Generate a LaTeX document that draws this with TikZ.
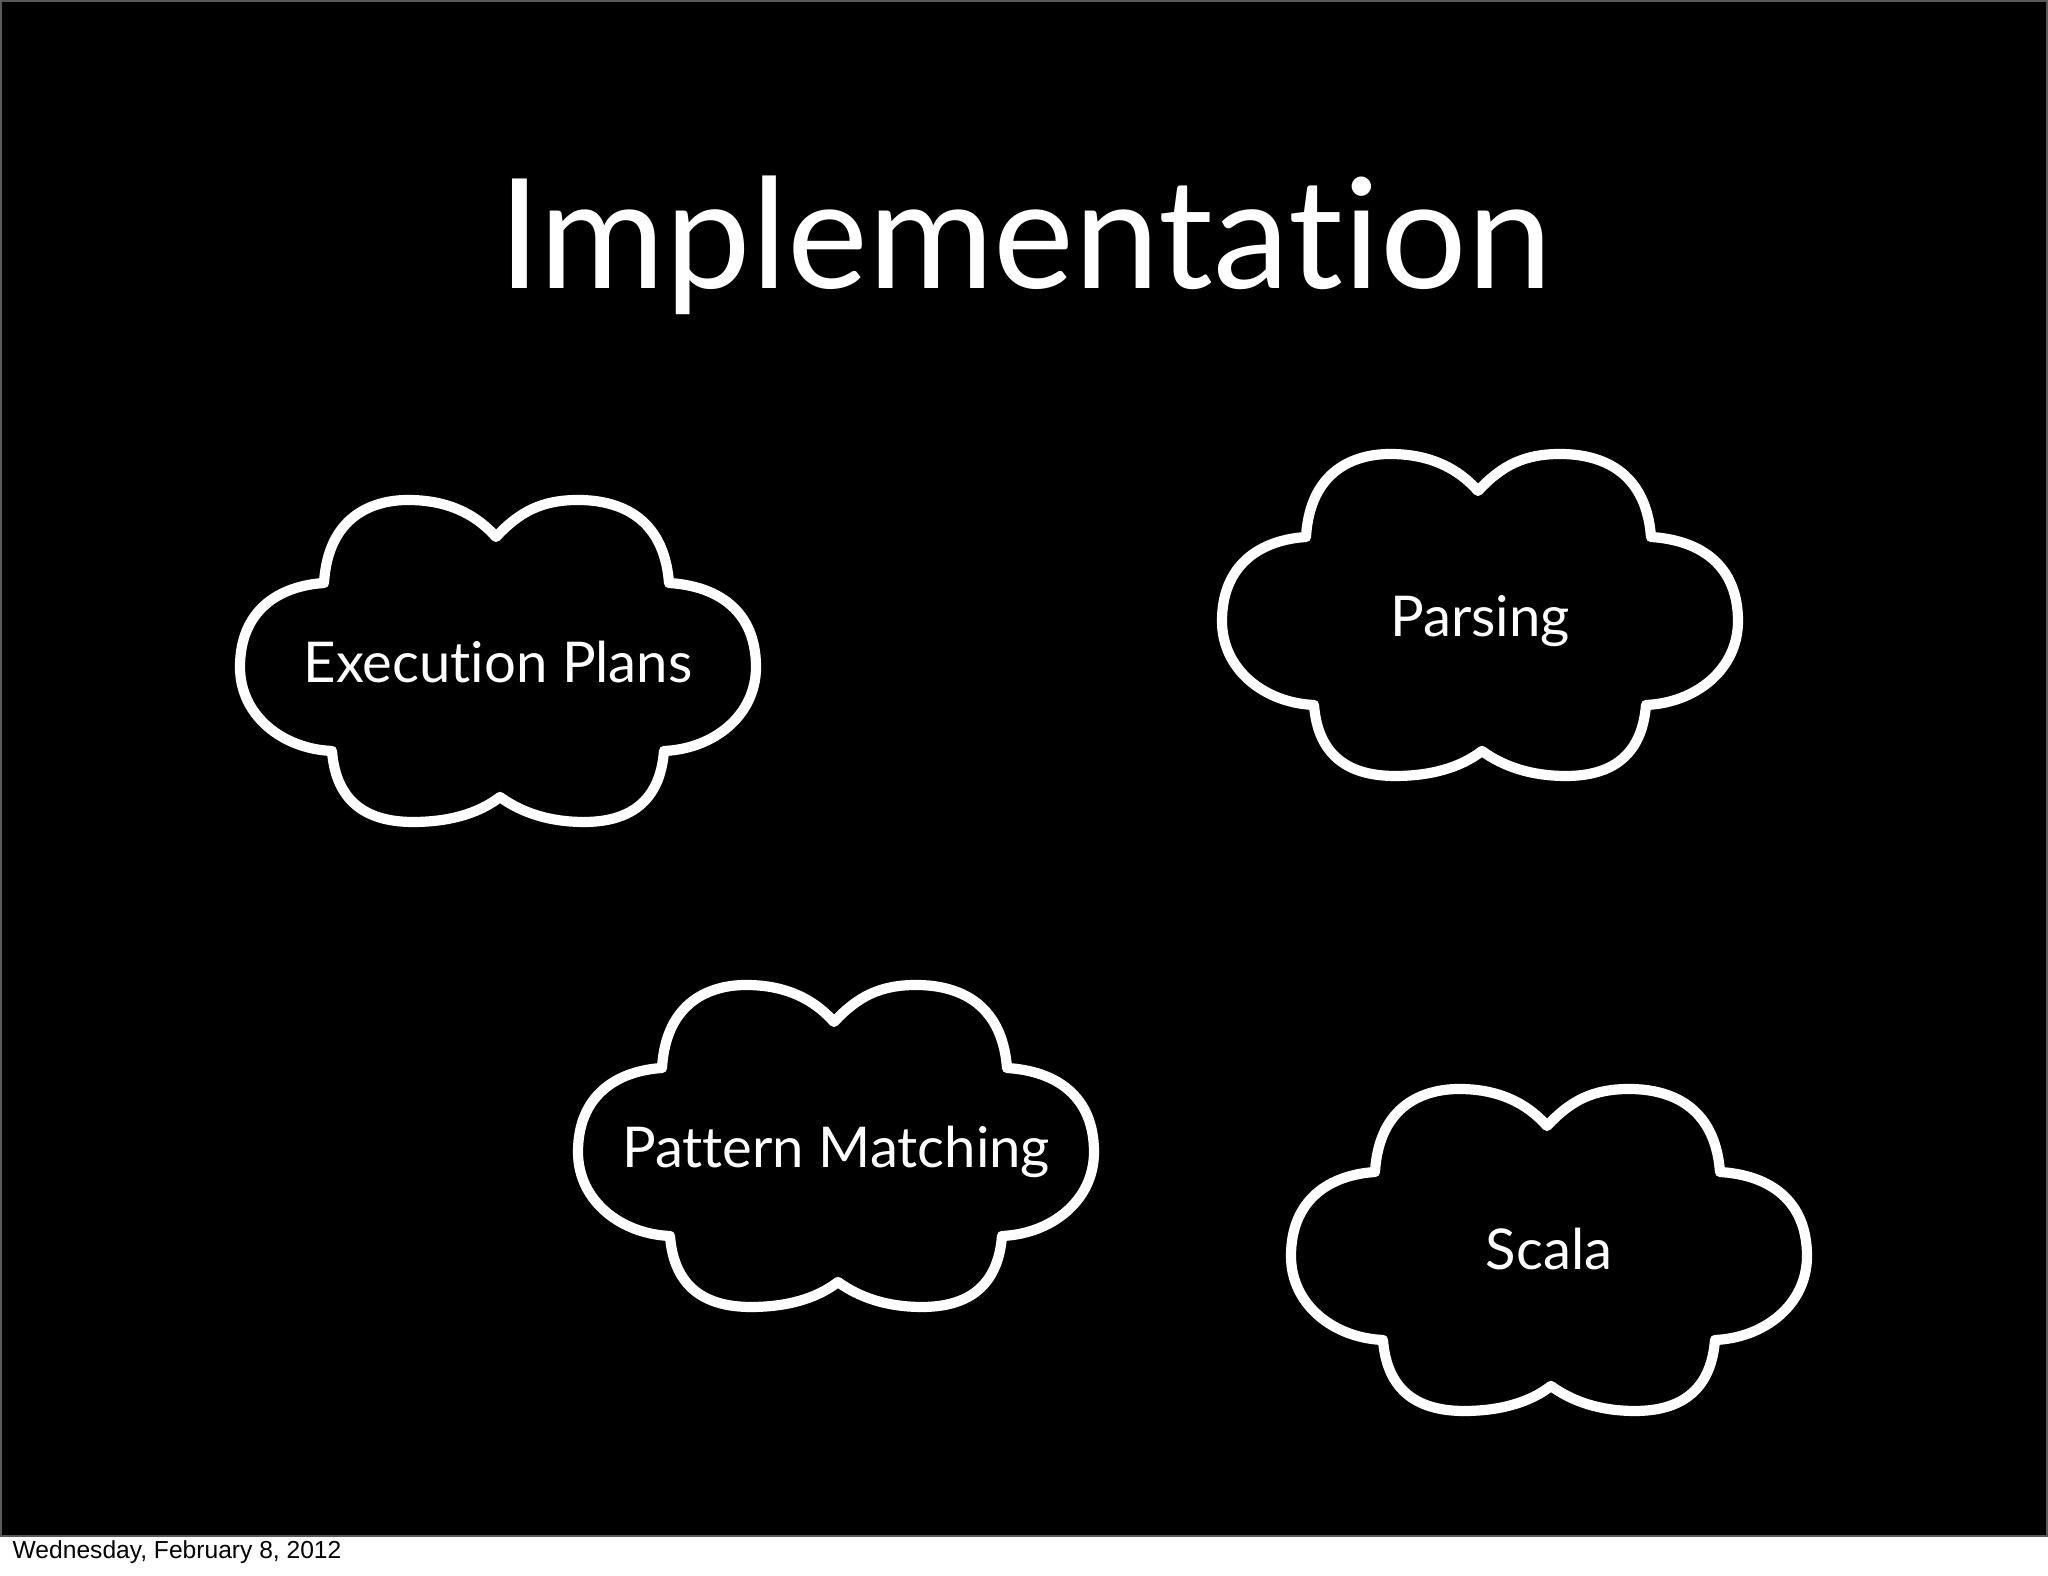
\documentclass[tikz,border=0pt]{standalone}
\usepackage{fontspec}
\setmainfont{Lato}[Ligatures={NoCommon}]
\newfontfamily\piefont{Liberation Sans}
\usepackage{tikz}

\tikzset{
  trazo/.style={draw=white, line width=2.9pt, line join=round, fill=black},
  etiqueta/.style={text=white, anchor=base, inner sep=0pt, font=\fontsize{16}{19}\selectfont},
  pics/nube/.style={code={
    \draw[trazo] (-1.74,0.78)
      .. controls (-1.70,1.45) and (-1.25,1.61) .. (-0.90,1.61)
      .. controls (-0.55,1.61) and (-0.25,1.50) .. (-0.02,1.24)
      .. controls (0.22,1.50) and (0.45,1.61) .. (0.80,1.61)
      .. controls (1.20,1.61) and (1.66,1.45) .. (1.71,0.78)
      .. controls (2.20,0.75) and (2.58,0.50) .. (2.58,-0.06)
      .. controls (2.58,-0.55) and (2.15,-0.88) .. (1.66,-0.90)
      .. controls (1.62,-1.42) and (1.30,-1.61) .. (0.86,-1.61)
      .. controls (0.52,-1.61) and (0.24,-1.52) .. (0.02,-1.36)
      .. controls (-0.20,-1.53) and (-0.50,-1.61) .. (-0.85,-1.61)
      .. controls (-1.30,-1.61) and (-1.62,-1.42) .. (-1.66,-0.90)
      .. controls (-2.15,-0.88) and (-2.58,-0.55) .. (-2.58,-0.06)
      .. controls (-2.58,0.50) and (-2.20,0.75) .. cycle;
  }}
}

\begin{document}
\begin{tikzpicture}
    \useasboundingbox (0,0) rectangle (20.48,15.76);

    % Fondo
    \fill[white] (0,0) rectangle (20.48,15.76);
    \draw[fill=black, draw=black!65, line width=0.6pt] (0.01,0.40) rectangle (20.47,15.75);

    % Titulo
    \node[text=white, anchor=base, inner sep=0pt, font=\fontsize{43.5}{50}\selectfont] (titulo) at (10.25,12.87) {Implementation};

    % Nubes
    \pic at (4.98,9.15) {nube};
    \node[etiqueta] (planes) at (4.98,8.93) {Execution Plans};

    \pic at (14.80,9.61) {nube};
    \node[etiqueta] (parsing) at (14.80,9.39) {Parsing};

    \pic at (8.36,4.30) {nube};
    \node[etiqueta] (patrones) at (8.36,4.08) {Pattern Matching};

    \pic at (15.49,3.26) {nube};
    \node[etiqueta] (scala) at (15.49,3.06) {Scala};

    % Pie
    \node[anchor=base west, inner sep=0pt, font=\piefont\fontsize{7}{8}\selectfont] (fecha) at (0.12,0.17) {Wednesday, February 8, 2012};

\end{tikzpicture}
\end{document}
